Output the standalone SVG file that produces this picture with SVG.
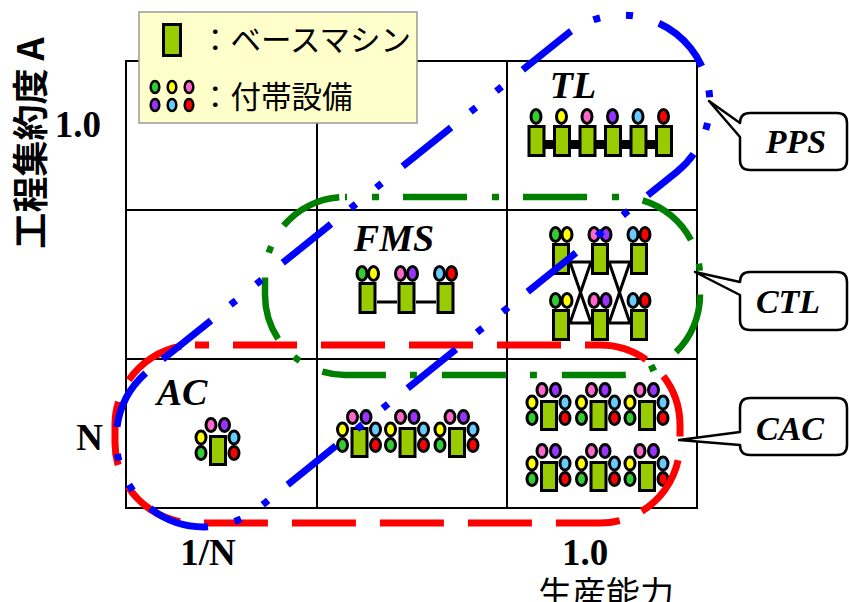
<svg xmlns="http://www.w3.org/2000/svg" xmlns:xlink="http://www.w3.org/1999/xlink" width="849" height="602" viewBox="0 0 849 602">
  <style>
    .grid { fill: none; stroke: #000; stroke-width: 2; }
    .mc { fill: #99cc00; stroke: #000; stroke-width: 3; }
    .e { stroke: #000; stroke-width: 3; }
    .g { fill: #33cc33; } .y { fill: #ffff00; } .p { fill: #ff66cc; }
    .v { fill: #9933ff; } .b { fill: #66ccff; } .r { fill: #ff0000; }
    .wire { stroke: #000; stroke-width: 3; fill: none; }
    .lbl { font-family: "Liberation Serif", "Times New Roman", serif; font-weight: bold; font-style: italic; fill: #000; }
    .num { font-family: "Liberation Serif", "Times New Roman", serif; font-weight: bold; font-size: 37px; fill: #000; }
    .jp { font-family: "Noto Sans CJK JP", "Noto Sans", sans-serif; fill: #000; }
    .callout { fill: #fff; stroke: #000; stroke-width: 2.5; stroke-linejoin: round; }
    .zone { fill: none; stroke-linecap: butt; }
  </style>
  <defs>
    <!-- machine with six attached units; origin = top centre of the machine body -->
    <g id="cluster">
      <ellipse class="e p" cx="-7" cy="-10" rx="5" ry="6.5"/>
      <ellipse class="e v" cx="6.5" cy="-10" rx="5" ry="6.5"/>
      <ellipse class="e y" cx="-17" cy="2.5" rx="5" ry="6.5"/>
      <ellipse class="e b" cx="16" cy="2.5" rx="5" ry="6.5"/>
      <ellipse class="e g" cx="-17" cy="18" rx="5" ry="6.5"/>
      <ellipse class="e r" cx="16" cy="18" rx="5" ry="6.5"/>
      <rect class="mc" x="-7.5" y="1.5" width="15" height="28"/>
    </g>
    <rect id="body" class="mc" x="-7.5" y="1.5" width="15" height="29"/>
  </defs>

  <rect width="849" height="602" fill="#fff"/>

  <!-- 3x3 grid -->
  <g id="grid" class="grid">
    <rect x="126" y="61" width="571" height="447"/>
    <line x1="317" y1="61" x2="317" y2="508"/>
    <line x1="507" y1="61" x2="507" y2="508"/>
    <line x1="126" y1="210" x2="697" y2="210"/>
    <line x1="126" y1="359" x2="697" y2="359"/>
  </g>

  <!-- TL: transfer line -->
  <g id="cell-tl">
    <text class="lbl" x="573" y="98" font-size="38" text-anchor="middle">TL</text>
    <rect x="536" y="140" width="128" height="9" fill="#000"/>
    <use xlink:href="#body" x="536.5" y="125"/>
    <use xlink:href="#body" x="562" y="125"/>
    <use xlink:href="#body" x="587.5" y="125"/>
    <use xlink:href="#body" x="613" y="125"/>
    <use xlink:href="#body" x="638.5" y="125"/>
    <use xlink:href="#body" x="664" y="125"/>
    <ellipse class="e g" cx="536" cy="116.5" rx="5" ry="7"/>
    <ellipse class="e y" cx="561.5" cy="116.5" rx="5" ry="7"/>
    <ellipse class="e p" cx="587" cy="116.5" rx="5" ry="7"/>
    <ellipse class="e v" cx="612.5" cy="116.5" rx="5" ry="7"/>
    <ellipse class="e b" cx="638" cy="116.5" rx="5" ry="7"/>
    <ellipse class="e r" cx="663.5" cy="116.5" rx="5" ry="7"/>
  </g>

  <!-- FMS -->
  <g id="cell-fms">
    <text class="lbl" x="394" y="251" font-size="38" text-anchor="middle">FMS</text>
    <line class="wire" x1="377" y1="302" x2="397" y2="302"/>
    <line class="wire" x1="416" y1="302" x2="436" y2="302"/>
    <use xlink:href="#body" x="367.5" y="282"/>
    <use xlink:href="#body" x="406.5" y="282"/>
    <use xlink:href="#body" x="445.5" y="282"/>
    <ellipse class="e g" cx="362" cy="273.5" rx="5" ry="7"/>
    <ellipse class="e y" cx="373.5" cy="273.5" rx="5" ry="7"/>
    <ellipse class="e p" cx="400.5" cy="273.5" rx="5" ry="7"/>
    <ellipse class="e v" cx="412.5" cy="273.5" rx="5" ry="7"/>
    <ellipse class="e b" cx="439.5" cy="273.5" rx="5" ry="7"/>
    <ellipse class="e r" cx="451.5" cy="273.5" rx="5" ry="7"/>
  </g>

  <!-- CTL: cross-linked machines -->
  <g id="cell-ctl">
    <path class="wire" d="M570,262 H591 M570,323 H591 M570,262 L591,323 M591,262 L570,323"/>
    <path class="wire" d="M609,262 H630 M609,323 H630 M609,262 L630,323 M630,262 L609,323"/>
    <use xlink:href="#body" x="561" y="243"/>
    <use xlink:href="#body" x="600" y="243"/>
    <use xlink:href="#body" x="639" y="243"/>
    <use xlink:href="#body" x="561" y="309"/>
    <use xlink:href="#body" x="600" y="309"/>
    <use xlink:href="#body" x="639" y="309"/>
    <ellipse class="e g" cx="555.5" cy="234.5" rx="5" ry="7"/>
    <ellipse class="e y" cx="567" cy="234.5" rx="5" ry="7"/>
    <ellipse class="e p" cx="594" cy="234.5" rx="5" ry="7"/>
    <ellipse class="e v" cx="606" cy="234.5" rx="5" ry="7"/>
    <ellipse class="e b" cx="633" cy="234.5" rx="5" ry="7"/>
    <ellipse class="e r" cx="645" cy="234.5" rx="5" ry="7"/>
    <ellipse class="e g" cx="555.5" cy="300.5" rx="5" ry="7"/>
    <ellipse class="e y" cx="567" cy="300.5" rx="5" ry="7"/>
    <ellipse class="e p" cx="594" cy="300.5" rx="5" ry="7"/>
    <ellipse class="e v" cx="606" cy="300.5" rx="5" ry="7"/>
    <ellipse class="e b" cx="633" cy="300.5" rx="5" ry="7"/>
    <ellipse class="e r" cx="645" cy="300.5" rx="5" ry="7"/>
  </g>

  <!-- AC -->
  <g id="cell-ac">
    <text class="lbl" x="182" y="405" font-size="38" text-anchor="middle">AC</text>
    <use xlink:href="#cluster" x="218" y="435"/>
  </g>

  <!-- middle bottom cell -->
  <g id="cell-mid">
    <use xlink:href="#cluster" x="359.5" y="427"/>
    <use xlink:href="#cluster" x="407.5" y="427"/>
    <use xlink:href="#cluster" x="457" y="427"/>
  </g>

  <!-- CAC -->
  <g id="cell-cac">
    <use xlink:href="#cluster" x="549" y="400"/>
    <use xlink:href="#cluster" x="598.5" y="400"/>
    <use xlink:href="#cluster" x="647" y="400"/>
    <use xlink:href="#cluster" x="549" y="461"/>
    <use xlink:href="#cluster" x="598.5" y="461"/>
    <use xlink:href="#cluster" x="647" y="461"/>
  </g>

  <!-- system regions -->
  <g id="connectors">
    <rect id="zone-cac" class="zone" x="115" y="345" width="565" height="178" rx="80" stroke="#ff0000" stroke-width="7" stroke-dasharray="64 24" stroke-dashoffset="50"/>
    <rect id="zone-ctl" class="zone" x="265" y="197" width="435" height="178" rx="80" stroke="#008000" stroke-width="6.5" stroke-dasharray="64 25 7 24" stroke-dashoffset="62"/>
    <rect id="zone-pps" class="zone" x="57" y="183" width="712" height="176" rx="88" transform="rotate(-38.8 413 271)" stroke="#0000ff" stroke-width="7" stroke-dasharray="62 25 7 26 7 27" stroke-dashoffset="136.4"/>
  </g>

  <!-- callouts -->
  <g id="callout-pps">
    <path class="callout" d="M709,101 L740,137 V160 Q740,170 750,170 H837 Q847,170 847,160 V123 Q847,113 837,113 H750 Q740,113 740,123 Z"/>
    <text class="lbl" x="796" y="153" font-size="34" text-anchor="middle">PPS</text>
  </g>
  <g id="callout-ctl">
    <path class="callout" d="M695,272 L740,295 V320 Q740,330 750,330 H837 Q847,330 847,320 V282 Q847,272 837,272 H750 Q740,272 740,282 Z"/>
    <text class="lbl" x="788" y="313" font-size="34" text-anchor="middle">CTL</text>
  </g>
  <g id="callout-cac">
    <path class="callout" d="M679,440 L740,445 Q740,455 750,455 H837 Q847,455 847,445 V408 Q847,398 837,398 H750 Q740,398 740,408 V432 Z"/>
    <text class="lbl" x="790" y="440" font-size="34" text-anchor="middle">CAC</text>
  </g>

  <!-- legend -->
  <g id="legend">
    <rect x="139" y="12" width="278" height="111" fill="#ffffcc" stroke="#999" stroke-width="1.5"/>
    <rect class="mc" x="163.5" y="24.5" width="17" height="31"/>
    <text class="jp" x="200" y="51" font-size="30.5">：ベースマシン</text>
    <g stroke="#000" stroke-width="2.5">
      <ellipse class="g" cx="155" cy="87" rx="4.3" ry="6"/>
      <ellipse class="y" cx="172" cy="87" rx="4.3" ry="6"/>
      <ellipse class="p" cx="189" cy="87" rx="4.3" ry="6"/>
      <ellipse class="v" cx="155" cy="105" rx="4.3" ry="6"/>
      <ellipse class="b" cx="172" cy="105" rx="4.3" ry="6"/>
      <ellipse class="r" cx="189" cy="105" rx="4.3" ry="6"/>
    </g>
    <text class="jp" x="200" y="108" font-size="30.5">：付帯設備</text>
  </g>

  <!-- axes -->
  <g id="axes">
    <text class="jp" font-size="36" font-weight="bold" text-anchor="middle" transform="translate(44,143) rotate(-90)">工程集約度 A</text>
    <text class="num" x="101" y="137" text-anchor="end">1.0</text>
    <text class="num" x="103" y="450" text-anchor="end">N</text>
    <text class="num" x="208" y="565" text-anchor="middle">1/N</text>
    <text class="num" x="585" y="565" text-anchor="middle">1.0</text>
    <text class="jp" x="606" y="606" font-size="34" text-anchor="middle">生産能力</text>
  </g>
</svg>
